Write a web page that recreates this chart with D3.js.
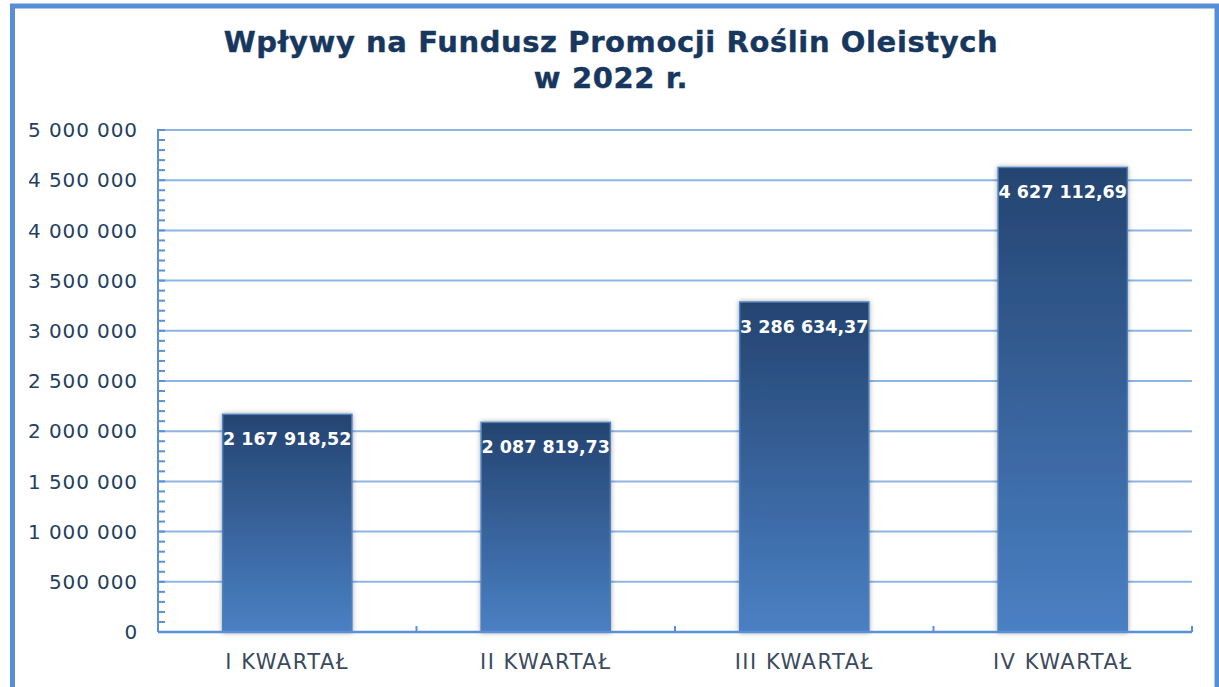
<!DOCTYPE html>
<html>
<head>
<meta charset="utf-8">
<script src="https://cdn.jsdelivr.net/npm/d3@7"></script>
<style>
  body { margin: 0; background: #fff; }
  svg { display: block; font-family: "DejaVu Sans", Verdana, sans-serif; }
</style>
</head>
<body>
<svg id="chart" width="1219" height="687"></svg>
<script>
// data
const quarters = ['I KWARTAŁ', 'II KWARTAŁ', 'III KWARTAŁ', 'IV KWARTAŁ']
const inflows = [2167918.52, 2087819.73, 3286634.37, 4627112.69]
const yTicks = [0, 500000, 1000000, 1500000, 2000000, 2500000, 3000000, 3500000, 4000000, 4500000, 5000000]
const titleLines = ['Wpływy na Fundusz Promocji Roślin Oleistych', 'w 2022 r.']

const svg = d3.select('#chart')
const margin = { left: 158, right: 27, top: 130, bottom: 55 }
const width = 1219 - margin.left - margin.right
const height = 687 - margin.top - margin.bottom

// Polish style number format: spaces for thousands, comma for decimals
const pl = d3.formatLocale({ decimal: ',', thousands: ' ', grouping: [3], currency: ['', ' zł'] })
const fmtInt = pl.format(',d')
const fmtDec = pl.format(',.2f')

const defs = svg.append('defs')
const grad = defs.append('linearGradient')
    .attr('id', 'barGrad')
    .attr('x1', 0).attr('y1', 0).attr('x2', 0).attr('y2', 1)
grad.append('stop').attr('offset', '0%').attr('stop-color', '#244470')
grad.append('stop').attr('offset', '100%').attr('stop-color', '#4a80c4')

const shadow = defs.append('filter').attr('id', 'shadow')
    .attr('x', '-10%').attr('y', '-5%').attr('width', '120%').attr('height', '110%')
shadow.append('feDropShadow')
    .attr('dx', 0).attr('dy', 0).attr('stdDeviation', 2.5)
    .attr('flood-color', '#000').attr('flood-opacity', 0.35)

// outer frame
svg.append('path')
    .attr('d', 'M12.5,700 L12.5,6 L1217,6 L1217,700')
    .attr('fill', 'none')
    .attr('stroke', '#568fd6')
    .attr('stroke-width', 5)
svg.append('line')
    .attr('x1', 1217.5).attr('x2', 1217.5).attr('y1', 6).attr('y2', 687)
    .attr('stroke', '#568fd6').attr('stroke-width', 2)

// title
svg.append('text')
    .attr('x', 611)
    .attr('y', 52)
    .attr('text-anchor', 'middle')
    .style('font-size', '29px')
    .style('font-weight', 'bold')
    .style('letter-spacing', '0.6px')
    .style('fill', '#17375e')
    .style('stroke', '#17375e')
    .style('stroke-width', 0.4)
    .selectAll('tspan')
    .data(titleLines)
    .enter()
    .append('tspan')
      .attr('x', 611)
      .attr('dy', (d, i) => i === 0 ? 0 : 36)
      .text(d => d)

const chart = svg.append('g')
    .attr('transform', `translate(${margin.left}, ${margin.top})`)

const yScale = d3.scaleLinear()
    .domain([0, 5000000])
    .range([height, 0])

const xScale = d3.scaleBand()
    .domain(quarters)
    .range([0, width])
    .paddingInner(0.5)
    .paddingOuter(0.25)

// gridlines
chart.append('g')
  .selectAll('line')
  .data(yTicks.slice(1))
  .enter()
  .append('line')
    .attr('x1', 0)
    .attr('x2', width)
    .attr('y1', d => yScale(d))
    .attr('y2', d => yScale(d))
    .attr('stroke', '#8db4e3')
    .attr('stroke-width', 2)

// bars
chart.append('g')
  .selectAll('rect')
  .data(inflows)
  .enter()
  .append('rect')
    .attr('x', (d, i) => xScale(quarters[i]))
    .attr('y', d => yScale(d))
    .attr('width', xScale.bandwidth())
    .attr('height', d => yScale(0) - yScale(d))
    .attr('fill', 'url(#barGrad)')
    .attr('stroke', '#4f81bd')
    .attr('stroke-width', 1.5)
    .attr('filter', 'url(#shadow)')

// value labels
chart.append('g')
  .selectAll('text')
  .data(inflows)
  .enter()
  .append('text')
    .attr('x', (d, i) => xScale(quarters[i]) + xScale.bandwidth() / 2)
    .attr('y', d => yScale(d) + 31)
    .attr('text-anchor', 'middle')
    .style('font-size', '17.5px')
    .style('font-weight', 'bold')
    .style('fill', '#fff')
    .text(d => fmtDec(d))

// y axis with minor ticks every 100 000
const yAxis = chart.append('g')
yAxis.append('line')
    .attr('x1', 0).attr('x2', 0)
    .attr('y1', yScale(5000000) - 1).attr('y2', yScale(0))
    .attr('stroke', '#5b8fd6').attr('stroke-width', 2)
yAxis.selectAll('.minor')
  .data(d3.range(0, 5000001, 100000))
  .enter()
  .append('line')
    .attr('class', 'minor')
    .attr('x1', 0).attr('x2', 7)
    .attr('y1', d => yScale(d)).attr('y2', d => yScale(d))
    .attr('stroke', '#5b8fd6').attr('stroke-width', 2)
yAxis.selectAll('.lbl')
  .data(yTicks)
  .enter()
  .append('text')
    .attr('class', 'lbl')
    .attr('x', -20)
    .attr('y', d => yScale(d))
    .attr('dy', '0.36em')
    .attr('text-anchor', 'end')
    .style('font-size', '20px')
    .style('letter-spacing', '0.9px')
    .style('fill', '#243f60')
    .text(d => fmtInt(d))

// x axis
const xAxis = chart.append('g').attr('transform', `translate(0, ${height})`)
xAxis.append('line')
    .attr('x1', 0).attr('x2', width)
    .attr('stroke', '#5b8fd6').attr('stroke-width', 2.5)
xAxis.selectAll('.tick')
  .data(d3.range(quarters.length + 1))
  .enter()
  .append('line')
    .attr('class', 'tick')
    .attr('x1', i => i * xScale.step())
    .attr('x2', i => i * xScale.step())
    .attr('y1', 0).attr('y2', -6)
    .attr('stroke', '#5b8fd6').attr('stroke-width', 2)
xAxis.selectAll('.cat')
  .data(quarters)
  .enter()
  .append('text')
    .attr('class', 'cat')
    .attr('x', d => xScale(d) + xScale.bandwidth() / 2)
    .attr('y', 37)
    .attr('text-anchor', 'middle')
    .style('font-size', '21px')
    .style('letter-spacing', '1.5px')
    .style('fill', '#3b4a5e')
    .text(d => d)
</script>
</body>
</html>
